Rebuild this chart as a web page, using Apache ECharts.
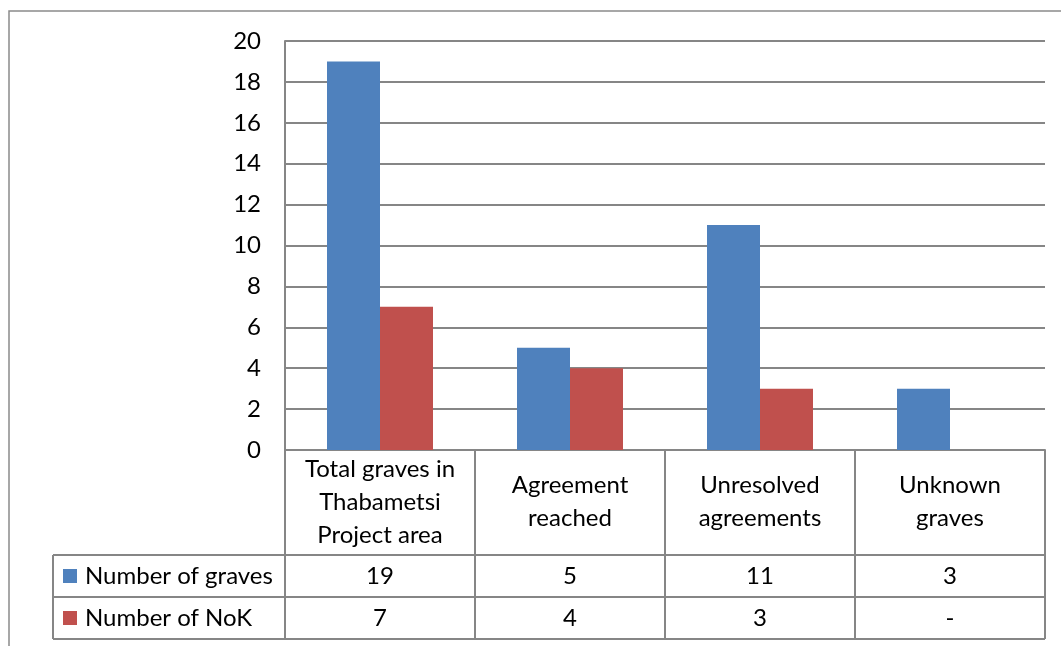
<!DOCTYPE html>
<html>
<head>
<meta charset="utf-8">
<script src="https://cdn.jsdelivr.net/npm/echarts@6/dist/echarts.min.js"></script>
<style>
  html, body { margin: 0; padding: 0; background: #fff; }
  #main { width: 1061px; height: 646px; }
</style>
</head>
<body>
<div id="main"></div>
<script>
var categories = ['Total graves in\nThabametsi\nProject area', 'Agreement\nreached', 'Unresolved\nagreements', 'Unknown\ngraves'];
var seriesNames = ['Number of graves', 'Number of NoK'];
var graves = [19, 5, 11, 3];
var nok = [7, 4, 3, null];
var yTicks = [0, 20, 2]; // min, max, interval

var colors = ['#4F81BD', '#C0504D'];
var lineGray = '#868686';
var font = 'Lato, "Open Sans", sans-serif';
var fs = 24;

var chart = echarts.init(document.getElementById('main'));

var option = {
  backgroundColor: '#fff',
  animation: false,
  color: colors,
  grid: { left: 285, right: 16, top: 41, bottom: 196 },
  xAxis: {
    type: 'category',
    data: categories,
    axisLine: { lineStyle: { color: lineGray, width: 2 } },
    axisTick: { show: false },
    axisLabel: {
      interval: 0,
      margin: 52,
      verticalAlign: 'middle',
      lineHeight: 33,
      fontSize: fs,
      fontFamily: font,
      color: '#000'
    }
  },
  yAxis: {
    type: 'value',
    min: yTicks[0],
    max: yTicks[1],
    interval: yTicks[2],
    axisLine: { show: true, lineStyle: { color: lineGray, width: 2 } },
    axisTick: { show: false },
    splitLine: { lineStyle: { color: lineGray, width: 2 } },
    axisLabel: { margin: 24, fontSize: fs, fontFamily: font, color: '#000' }
  },
  series: [
    { name: seriesNames[0], type: 'bar', data: graves, barWidth: 53, barGap: '0%' },
    { name: seriesNames[1], type: 'bar', data: nok, barWidth: 53, barGap: '0%' }
  ]
};
chart.setOption(option);

// data table below the plot, laid out from the axis positions
var p0 = chart.convertToPixel({ xAxisIndex: 0 }, 0);
var p1 = chart.convertToPixel({ xAxisIndex: 0 }, 1);
var band = p1 - p0;
var yBase = chart.convertToPixel({ yAxisIndex: 0 }, 0);
var headH = 105, rowH = 42;
var tableLeft = p0 - band / 2;
var tableRight = tableLeft + band * categories.length;
var legendLeft = 53;
var rowsTop = yBase + headH;
var rowsData = [graves, nok];

var g = [];
function line(x1, y1, x2, y2) {
  g.push({ type: 'line', shape: { x1: x1, y1: y1, x2: x2, y2: y2 },
    style: { stroke: lineGray, lineWidth: 2 } });
}
// outer chart border
g.push({ type: 'rect', shape: { x: 9, y: 11, width: 1200, height: 800 },
  style: { fill: null, stroke: '#8a8a8a', lineWidth: 1.5 } });

for (var i = 0; i <= categories.length; i++) {
  var x = tableLeft + band * i;
  line(x, yBase, x, rowsTop + rowH * 2);
}
line(legendLeft, rowsTop, legendLeft, rowsTop + rowH * 2);
for (var r = 0; r <= 2; r++) {
  line(legendLeft, rowsTop + rowH * r, tableRight, rowsTop + rowH * r);
}
rowsData.forEach(function (arr, r) {
  var cy = rowsTop + rowH * r + rowH / 2;
  g.push({ type: 'rect', shape: { x: legendLeft + 10, y: cy - 7, width: 14, height: 14 },
    style: { fill: colors[r] } });
  g.push({ type: 'text', x: legendLeft + 32, y: cy,
    style: { text: seriesNames[r], fontSize: fs, fontFamily: font, fill: '#000',
      verticalAlign: 'middle', align: 'left' } });
  arr.forEach(function (v, c) {
    g.push({ type: 'text', x: chart.convertToPixel({ xAxisIndex: 0 }, c), y: cy,
      style: { text: v == null ? '-' : String(v), fontSize: fs, fontFamily: font, fill: '#000',
        align: 'center', verticalAlign: 'middle' } });
  });
});
chart.setOption({ graphic: g });
</script>
</body>
</html>
